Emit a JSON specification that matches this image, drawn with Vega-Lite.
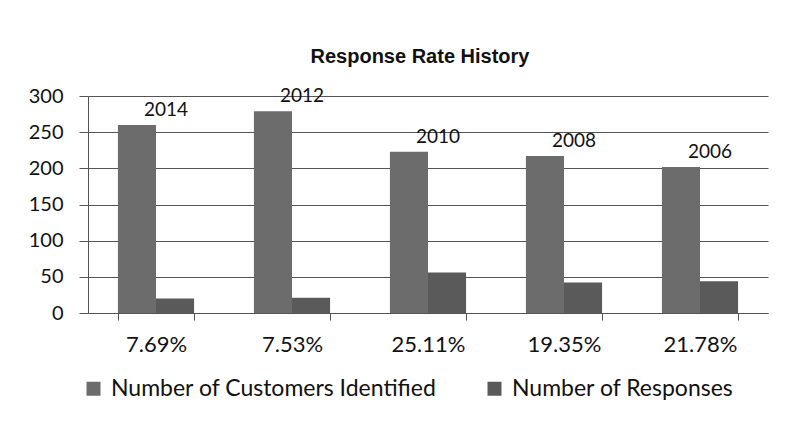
{
  "$schema": "https://vega.github.io/schema/vega-lite/v6.json",
  "autosize": "none",
  "width": 680,
  "height": 217,
  "padding": {"left": 88, "top": 96, "right": 35, "bottom": 122},
  "background": "white",
  "title": {
    "text": "Response Rate History",
    "font": "Liberation Sans",
    "fontSize": 20,
    "fontWeight": "bold",
    "color": "#111111",
    "anchor": "middle",
    "frame": "group",
    "dx": -8,
    "offset": 19
  },
  "data": {
    "values": [
      {"year": "2014", "rate": "7.69%", "series": "Number of Customers Identified", "value": 260},
      {"year": "2014", "rate": "7.69%", "series": "Number of Responses", "value": 20},
      {"year": "2012", "rate": "7.53%", "series": "Number of Customers Identified", "value": 279},
      {"year": "2012", "rate": "7.53%", "series": "Number of Responses", "value": 21},
      {"year": "2010", "rate": "25.11%", "series": "Number of Customers Identified", "value": 223},
      {"year": "2010", "rate": "25.11%", "series": "Number of Responses", "value": 56},
      {"year": "2008", "rate": "19.35%", "series": "Number of Customers Identified", "value": 217},
      {"year": "2008", "rate": "19.35%", "series": "Number of Responses", "value": 42},
      {"year": "2006", "rate": "21.78%", "series": "Number of Customers Identified", "value": 202},
      {"year": "2006", "rate": "21.78%", "series": "Number of Responses", "value": 44}
    ]
  },
  "encoding": {
    "x": {
      "field": "rate",
      "type": "nominal",
      "sort": null,
      "scale": {"paddingInner": 0.44, "paddingOuter": 0.22},
      "axis": {
        "title": null,
        "labelAngle": 0,
        "labelFont": "Lato",
        "labelFontSize": 22,
        "labelColor": "#111111",
        "labelPadding": 14,
        "tickBand": "extent",
        "tickSize": 7,
        "tickColor": "#555555",
        "domainColor": "#555555",
        "grid": false
      }
    },
    "y": {
      "field": "value",
      "type": "quantitative",
      "scale": {"domain": [0, 300], "nice": false},
      "axis": {
        "title": null,
        "values": [0, 50, 100, 150, 200, 250, 300],
        "labelFont": "Lato",
        "labelFontSize": 20,
        "labelColor": "#111111",
        "labelPadding": 16,
        "ticks": true,
        "tickSize": 9,
        "tickColor": "#555555",
        "domainColor": "#555555",
        "grid": true,
        "gridColor": "#555555",
        "gridWidth": 1
      }
    }
  },
  "layer": [
    {
      "mark": {"type": "bar"},
      "encoding": {
        "xOffset": {"field": "series", "type": "nominal", "scale": {"paddingInner": 0}},
        "color": {
          "field": "series",
          "type": "nominal",
          "scale": {"range": ["#6c6c6c", "#5a5a5a"]},
          "legend": {
            "title": null,
            "orient": "none",
            "legendX": -6,
            "legendY": 281,
            "direction": "horizontal",
            "symbolType": "square",
            "symbolSize": 196,
            "symbolStrokeWidth": 0,
            "symbolOpacity": 1,
            "labelFont": "Lato",
            "labelFontSize": 23,
            "labelColor": "#111111",
            "labelLimit": 450,
            "labelOffset": 6,
            "columnPadding": 46
          }
        }
      }
    },
    {
      "transform": [{"filter": "datum.series === 'Number of Customers Identified'"}],
      "mark": {
        "type": "text",
        "font": "Lato",
        "fontSize": 19,
        "color": "#111111",
        "baseline": "bottom",
        "align": "center",
        "dx": 10,
        "dy": -5
      },
      "encoding": {
        "text": {"field": "year"}
      }
    }
  ],
  "config": {
    "view": {"stroke": null}
  }
}
